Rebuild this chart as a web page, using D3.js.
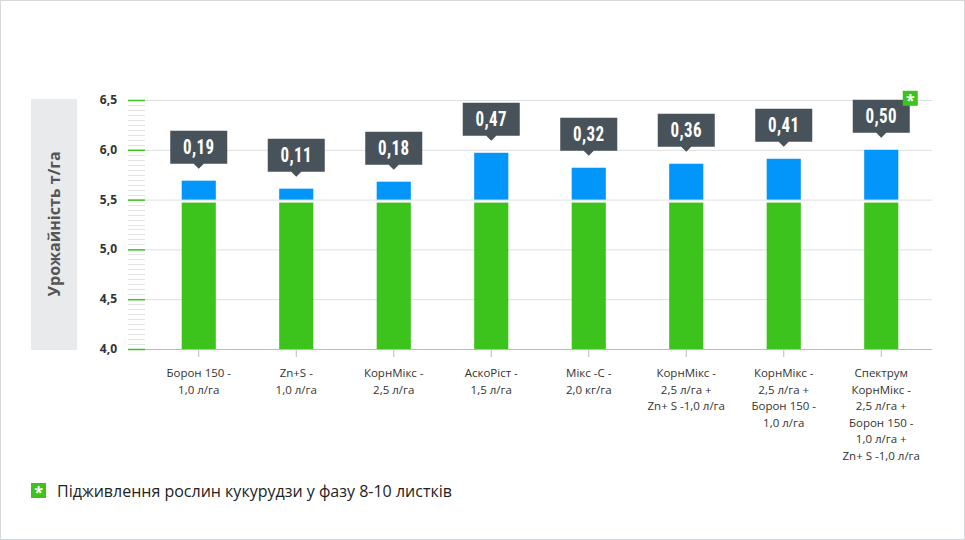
<!DOCTYPE html>
<html><head><meta charset="utf-8">
<script src="https://cdn.jsdelivr.net/npm/d3@7"></script>
<style>body{margin:0;background:#fff}svg{display:block;font-family:"Open Sans",sans-serif}</style>
</head><body><svg id="chart" width="965" height="540"></svg>
<script>
var categories = [
  ["Борон 150 -", "1,0 л/га"],
  ["Zn+S -", "1,0 л/га"],
  ["КорнМікс -", "2,5 л/га"],
  ["АскоРіст -", "1,5 л/га"],
  ["Мікс -С -", "2,0  кг/га"],
  ["КорнМікс -", "2,5 л/га +", "Zn+ S -1,0 л/га"],
  ["КорнМікс -", "2,5 л/га +", "Борон 150 -", "1,0 л/га"],
  ["Спектрум", "КорнМікс -", "2,5 л/га +", "Борон 150 -", "1,0 л/га +", "Zn+ S -1,0 л/га"]
];
var baseValue = 5.47;
var gains = [0.19, 0.11, 0.18, 0.47, 0.32, 0.36, 0.41, 0.50];
var gainLabels = ["0,19", "0,11", "0,18", "0,47", "0,32", "0,36", "0,41", "0,50"];
var yTicks = [4.0, 4.5, 5.0, 5.5, 6.0, 6.5];
var starred = [7];

var svg = d3.select("#chart");
svg.append("rect").attr("x", 0.5).attr("y", 0.5).attr("width", 964).attr("height", 539)
  .attr("fill", "none").attr("stroke", "#d5d8db");

var y = d3.scaleLinear().domain([4, 6.5]).range([349, 100]);
var x = d3.scaleBand().domain(d3.range(categories.length)).range([150, 930]).paddingInner(0.65).paddingOuter(0.325);

// y label box
svg.append("rect").attr("x", 31).attr("y", 99).attr("width", 46).attr("height", 251).attr("fill", "#e8eaec");
svg.append("text").attr("transform", "translate(60,224) rotate(-90)").attr("text-anchor", "middle")
  .attr("font-size", 16).attr("font-weight", "bold").attr("fill", "#555").text("Урожайність т/га");

// grid
svg.selectAll(".grid").data(yTicks).enter().append("line")
  .attr("x1", 145).attr("x2", 932).attr("y1", function(d) { return y(d) + 0.5; }).attr("y2", function(d) { return y(d) + 0.5; })
  .attr("stroke", function(d) { return d == 4 ? "#b8bcc0" : "#dcdfe2"; });

// minor ticks
var minor = d3.range(4, 6.5001, 0.05);
svg.selectAll(".minor").data(minor).enter().append("line")
  .attr("x1", 128).attr("x2", 145).attr("y1", function(d) { return Math.round(y(d)) + 0.5; }).attr("y2", function(d) { return Math.round(y(d)) + 0.5; })
  .attr("stroke", "#e2e4e6");
svg.selectAll(".major").data(yTicks).enter().append("line")
  .attr("x1", 128).attr("x2", 145).attr("y1", function(d) { return y(d) + 0.5; }).attr("y2", function(d) { return y(d) + 0.5; })
  .attr("stroke", "#3cc31c").attr("stroke-width", 1.5);
svg.selectAll(".ylab").data(yTicks).enter().append("text")
  .attr("x", 117).attr("y", function(d) { return y(d) + 4; }).attr("text-anchor", "end")
  .attr("font-size", 12).attr("font-weight", "bold").attr("fill", "#333")
  .text(function(d) { return d3.format(".1f")(d).replace(".", ","); });

// bars
var g = svg.selectAll(".bar").data(gains).enter().append("g");
g.append("rect").attr("x", function(d, i) { return x(i); }).attr("width", x.bandwidth())
  .attr("y", y(baseValue)).attr("height", y(4) - y(baseValue)).attr("fill", "#3cc31c");
g.append("rect").attr("x", function(d, i) { return x(i); }).attr("width", x.bandwidth())
  .attr("y", function(d) { return y(5.5 + d); }).attr("height", function(d) { return y(5.5) - y(5.5 + d); }).attr("fill", "#0296fb");

// x ticks and labels
g.append("line").attr("x1", function(d, i) { return x(i) + x.bandwidth() / 2; }).attr("x2", function(d, i) { return x(i) + x.bandwidth() / 2; })
  .attr("y1", 350).attr("y2", 357).attr("stroke", "#b8bcc0");
g.append("text").attr("text-anchor", "middle").attr("font-size", 11.5).attr("fill", "#333")
  .each(function(d, i) {
    var t = d3.select(this);
    categories[i].forEach(function(line, k) {
      t.append("tspan").attr("x", x(i) + x.bandwidth() / 2).attr("y", 377 + k * 16.5).text(line);
    });
  });

// callouts
var cw = 57, ch = 33;
g.append("path").attr("fill", "#47525a").attr("d", function(d, i) {
  var cx = x(i) + x.bandwidth() / 2, b = y(5.5 + d) - 17;
  return "M" + (cx - cw / 2) + "," + (b - ch) + "h" + cw + "v" + ch + "h" + (-(cw / 2 - 5)) + "l-5,5l-5,-5h" + (-(cw / 2 - 5)) + "z";
});
g.append("text").attr("text-anchor", "middle").attr("fill", "#fff").attr("font-size", 20).attr("font-weight", "bold")
  .attr("font-family", "'Roboto Condensed','Liberation Sans Narrow',Roboto,sans-serif").attr("letter-spacing", 0.5)
  .attr("x", function(d, i) { return x(i) + x.bandwidth() / 2; })
  .attr("y", function(d) { return y(5.5 + d) - 17 - ch / 2 + 7; })
  .attr("transform", function(d, i) { var cx = x(i) + x.bandwidth() / 2; return "translate(" + cx + ",0) scale(0.85,1) translate(" + (-cx) + ",0)"; })
  .text(function(d, i) { return gainLabels[i]; });

function star(px, py) {
  svg.append("rect").attr("x", px).attr("y", py).attr("width", 15).attr("height", 15).attr("fill", "#3cc31c");
  svg.append("text").attr("x", px + 7.5).attr("y", py + 15).attr("text-anchor", "middle").attr("fill", "#fff")
    .attr("font-size", 16).attr("font-weight", "bold").text("*");
}
starred.forEach(function(i) {
  var cx = x(i) + x.bandwidth() / 2;
  star(cx + cw / 2 - 7, y(5.5 + gains[i]) - 17 - ch - 9);
});

star(31, 483);
svg.append("text").attr("x", 57).attr("y", 497).attr("font-size", 16).attr("fill", "#222")
  .text("Підживлення рослин кукурудзи у фазу 8-10 листків");
</script></body></html>
